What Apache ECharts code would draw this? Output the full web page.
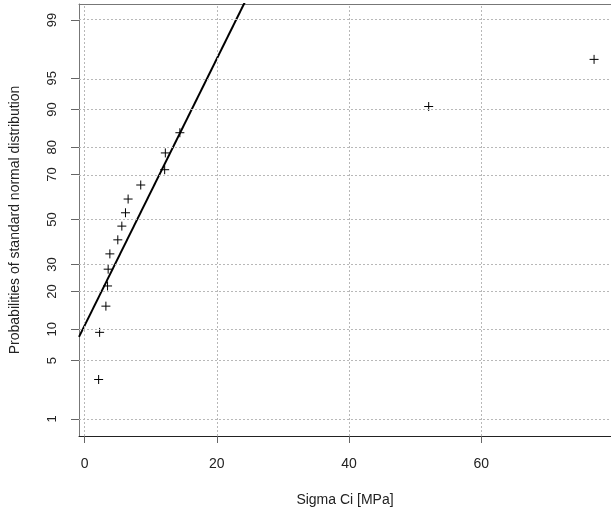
<!DOCTYPE html>
<html><head><meta charset="utf-8">
<script src="https://cdn.jsdelivr.net/npm/echarts@6/dist/echarts.min.js"></script>
<style>html,body{margin:0;padding:0;background:#fff}#c{width:611px;height:512px}</style>
</head><body><div id="c"></div>
<script>
// ---- data ----
const sigmaCi = [2.13, 2.28, 3.23, 3.48, 3.57, 3.83, 5.03, 5.64, 6.19, 6.59, 8.50, 12.12, 12.22, 14.42, 52.06, 77.08];
const probPercent = [3.1, 9.4, 15.6, 21.9, 28.1, 34.4, 40.6, 46.9, 53.1, 59.4, 65.6, 71.9, 78.1, 84.4, 90.6, 96.9];
const yTickPercent = [1, 5, 10, 20, 30, 50, 70, 80, 90, 95, 99];
const xTicks = [0, 20, 40, 60];
const fitMean = 7.96;   // fitted line: z = (x - mean) / sd
const fitSd = 6.43;
const xRange = [-0.84, 79.64];
const zRange = [-2.525, 2.512];

// inverse standard normal CDF (Acklam)
function qnorm(p) {
  const a = [-3.969683028665376e+01, 2.209460984245205e+02, -2.759285104469687e+02, 1.383577518672690e+02, -3.066479806614716e+01, 2.506628277459239e+00];
  const b = [-5.447609879822406e+01, 1.615858368580409e+02, -1.556989798598866e+02, 6.680131188771972e+01, -1.328068155288572e+01];
  const c = [-7.784894002430293e-03, -3.223964580411365e-01, -2.400758277161838e+00, -2.549732539343734e+00, 4.374664141464968e+00, 2.938163982698783e+00];
  const d = [7.784695709041462e-03, 3.224671290700398e-01, 2.445134137142996e+00, 3.754408661907416e+00];
  const pl = 0.02425, ph = 1 - pl;
  let q, r;
  if (p < pl) { q = Math.sqrt(-2 * Math.log(p)); return (((((c[0]*q+c[1])*q+c[2])*q+c[3])*q+c[4])*q+c[5]) / ((((d[0]*q+d[1])*q+d[2])*q+d[3])*q+1); }
  if (p <= ph) { q = p - 0.5; r = q*q; return (((((a[0]*r+a[1])*r+a[2])*r+a[3])*r+a[4])*r+a[5])*q / (((((b[0]*r+b[1])*r+b[2])*r+b[3])*r+b[4])*r+1); }
  q = Math.sqrt(-2 * Math.log(1 - p)); return -(((((c[0]*q+c[1])*q+c[2])*q+c[3])*q+c[4])*q+c[5]) / ((((d[0]*q+d[1])*q+d[2])*q+d[3])*q+1);
}

const yTickZ = yTickPercent.map(p => qnorm(p / 100));
const points = sigmaCi.map((x, i) => [x, qnorm(probPercent[i] / 100)]);
const lineX = [xRange[0], 40];
const fitLine = lineX.map(x => [x, (x - fitMean) / fitSd]);

const FONT = '"Liberation Sans", Arial, sans-serif';
const gridColor = '#b8b8b8';

const chart = echarts.init(document.getElementById('c'), null, {renderer: 'canvas'});
chart.setOption({
  animation: false,
  backgroundColor: '#fff',
  grid: {left: 79, top: 4, right: -2, bottom: 74, containLabel: false},
  xAxis: [{
    type: 'value', min: xRange[0], max: xRange[1], position: 'bottom',
    name: 'Sigma Ci [MPa]', nameLocation: 'middle', nameGap: 57,
    nameTextStyle: {fontFamily: FONT, fontSize: 14, color: '#222'},
    axisLine: {show: true, onZero: false, lineStyle: {color: '#222', width: 1}},
    axisTick: {show: true, length: 7, customValues: xTicks, lineStyle: {color: '#666'}},
    axisLabel: {show: true, customValues: xTicks, margin: 21, fontFamily: FONT, fontSize: 14, color: '#222'},
    splitLine: {show: false}
  }, {
    type: 'value', min: xRange[0], max: xRange[1], position: 'top',
    axisLine: {show: true, onZero: false, lineStyle: {color: '#777', width: 1}},
    axisTick: {show: false}, axisLabel: {show: false}, splitLine: {show: false}
  }],
  yAxis: {
    type: 'value', min: zRange[0], max: zRange[1],
    name: 'Probabilities of standard normal distribution', nameLocation: 'middle', nameGap: 57,
    nameTextStyle: {fontFamily: FONT, fontSize: 14, color: '#222'},
    axisLine: {show: true, onZero: false, lineStyle: {color: '#777', width: 1}},
    axisTick: {show: true, length: 8, customValues: yTickZ, lineStyle: {color: '#666'}},
    axisLabel: {
      show: true, customValues: yTickZ, rotate: 90, margin: 20,
      fontFamily: FONT, fontSize: 13, color: '#222',
      formatter: v => {
        const i = yTickZ.findIndex(z => Math.abs(z - v) < 1e-6);
        return i >= 0 ? String(yTickPercent[i]) : '';
      }
    },
    splitLine: {show: false}
  },
  series: [{
    type: 'line', data: [], silent: true,
    markLine: {
      silent: true, symbol: 'none', label: {show: false}, animation: false,
      lineStyle: {color: gridColor, type: [2, 2], width: 1},
      data: yTickZ.map(z => ({yAxis: z})).concat(xTicks.map(x => ({xAxis: x})))
    }
  }, {
    type: 'line', data: fitLine, showSymbol: false, symbol: 'none', clip: true,
    lineStyle: {color: '#000', width: 2}, silent: true, z: 3
  }, {
    type: 'scatter', data: points, symbolSize: 9,
    symbol: 'path://M0,5L10,5M5,0L5,10',
    itemStyle: {color: 'none', borderColor: '#000', borderWidth: 1, opacity: 1},
    z: 4
  }]
});
</script></body></html>
